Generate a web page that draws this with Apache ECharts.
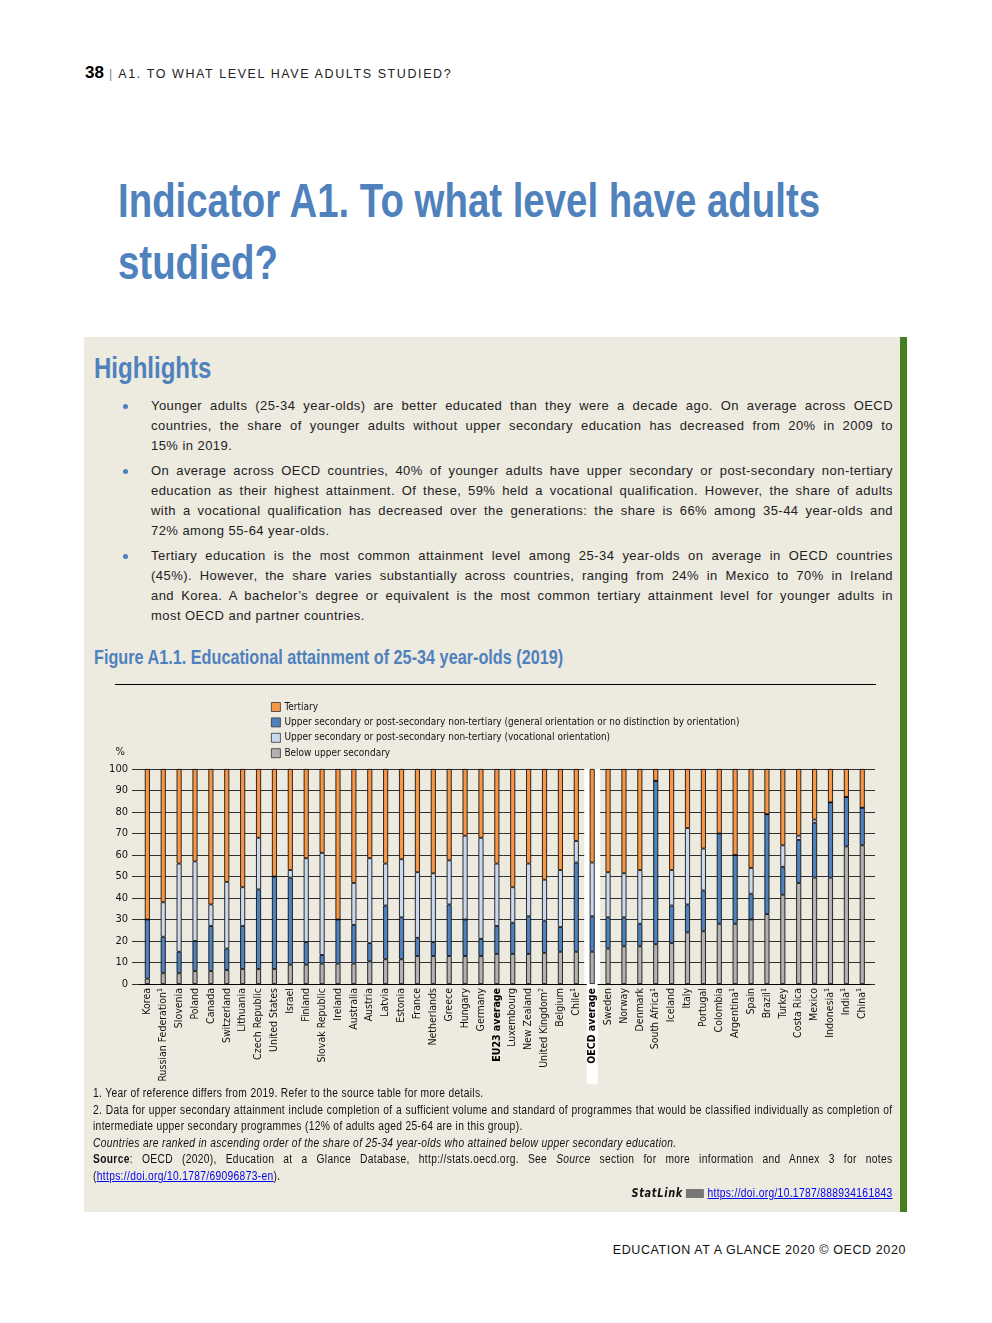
<!DOCTYPE html>
<html>
<head>
<meta charset="utf-8">
<script src="https://cdn.jsdelivr.net/npm/echarts@6/dist/echarts.min.js"></script>
<style>
  html, body { margin:0; padding:0; background:#fff; }
  body { width:992px; height:1323px; position:relative; overflow:hidden; font-family:"Liberation Sans", Arial, sans-serif; color:#111; }
  .abs { position:absolute; }
  .sx { transform:scaleX(0.8); transform-origin:left top; white-space:nowrap; }
  .hdr { left:85px; top:63px; font-size:12.5px; letter-spacing:1.6px; color:#222; white-space:nowrap; }
  .hdr b { font-size:17px; letter-spacing:0; color:#000; }
  .title { left:118px; top:170px; font-size:48px; font-weight:bold; color:#4f81bd; line-height:62px; }
  .box { left:84px; top:337px; width:816px; height:875px; background:#edeae0; }
  .green { left:900px; top:337px; width:7px; height:875px; background:#44801f; }
  .hl { left:94px; top:351px; font-size:30px; font-weight:bold; color:#4f81bd; }
  .bul { left:151px; width:742px; font-size:13px; letter-spacing:0.45px; line-height:20px; color:#222; }
  .bul div { text-align:justify; text-align-last:justify; white-space:nowrap; }
  .bul div.last { text-align-last:left; }
  .dot { left:123px; width:5px; height:5px; border-radius:50%; background:#4f81bd; }
  .ftitle { left:94px; top:646px; font-size:20.3px; font-weight:bold; color:#4f81bd; }
  .rule { left:115px; top:684px; width:761px; height:1px; background:#000; }
  .fn { left:93px; width:975px; font-size:12.5px; letter-spacing:0.4px; line-height:16.6px; color:#111; transform:scaleX(0.82); transform-origin:left top; }
  .fn div { white-space:nowrap; }
  .fn .j { text-align:justify; text-align-last:justify; }
  .fn a { color:#0000ee; text-decoration:underline; }
  .footer { right:86px; top:1243px; font-size:12.5px; letter-spacing:0.6px; color:#111; white-space:nowrap; }
  #chart { position:absolute; left:84px; top:690px; width:816px; height:400px; }
</style>
</head>
<body>
<div class="abs hdr"><b>38</b> <span style="color:#888">|</span> A1. TO WHAT LEVEL HAVE ADULTS STUDIED?</div>
<div class="abs title sx">Indicator A1. To what level have adults<br>studied?</div>
<div class="abs box"></div>
<div class="abs green"></div>
<div class="abs hl sx">Highlights</div>

<div class="abs dot" style="top:404px"></div>
<div class="abs bul" style="top:396px">
<div>Younger adults (25-34 year-olds) are better educated than they were a decade ago. On average across OECD</div>
<div>countries, the share of younger adults without upper secondary education has decreased from 20% in 2009 to</div>
<div class="last">15% in 2019.</div>
</div>
<div class="abs dot" style="top:469px"></div>
<div class="abs bul" style="top:461px">
<div>On average across OECD countries, 40% of younger adults have upper secondary or post-secondary non-tertiary</div>
<div>education as their highest attainment. Of these, 59% held a vocational qualification. However, the share of adults</div>
<div>with a vocational qualification has decreased over the generations: the share is 66% among 35-44 year-olds and</div>
<div class="last">72% among 55-64 year-olds.</div>
</div>
<div class="abs dot" style="top:554px"></div>
<div class="abs bul" style="top:546px">
<div>Tertiary education is the most common attainment level among 25-34 year-olds on average in OECD countries</div>
<div>(45%). However, the share varies substantially across countries, ranging from 24% in Mexico to 70% in Ireland</div>
<div>and Korea. A bachelor’s degree or equivalent is the most common tertiary attainment level for younger adults in</div>
<div class="last">most OECD and partner countries.</div>
</div>

<div class="abs ftitle sx">Figure A1.1. Educational attainment of 25-34 year-olds (2019)</div>
<div class="abs rule"></div>
<div id="chart"></div>

<div class="abs fn" style="top:1085px">
<div>1. Year of reference differs from 2019. Refer to the source table for more details.</div>
<div class="j">2. Data for upper secondary attainment include completion of a sufficient volume and standard of programmes that would be classified individually as completion of</div>
<div>intermediate upper secondary programmes (12% of adults aged 25-64 are in this group).</div>
<div><i>Countries are ranked in ascending order of the share of 25-34 year-olds who attained below upper secondary education.</i></div>
<div class="j"><b>Source</b>: OECD (2020), Education at a Glance Database, http://stats.oecd.org. See <i>Source</i> section for more information and Annex 3 for notes</div>
<div>(<a>https://doi.org/10.1787/69096873-en</a>).</div>
<div style="text-align:right; margin-top:0px"><span style="font-family:'DejaVu Sans',sans-serif;font-weight:bold;font-style:italic;font-size:12px;letter-spacing:0.8px">StatLink</span> <span style="display:inline-block;width:22px;height:9px;background:#777;vertical-align:middle"></span> <a>https://doi.org/10.1787/888934161843</a></div>
</div>

<div class="abs footer">EDUCATION AT A GLANCE 2020 © OECD 2020</div>

<script>
// ---- data ----
const categories = ['Korea','Russian Federation','Slovenia','Poland','Canada','Switzerland','Lithuania','Czech Republic','United States','Israel','Finland','Slovak Republic','Ireland','Australia','Austria','Latvia','Estonia','France','Netherlands','Greece','Hungary','Germany','EU23 average','Luxembourg','New Zealand','United Kingdom','Belgium','Chile','OECD average','Sweden','Norway','Denmark','South Africa','Iceland','Italy','Portugal','Colombia','Argentina','Spain','Brazil','Turkey','Costa Rica','Mexico','Indonesia','India','China'];
const notes = ['', '1', '', '', '', '', '', '', '', '', '', '', '', '', '', '', '', '', '', '', '', '', '', '', '', '2', '', '1', '', '', '', '', '1', '', '', '', '', '1', '', '1', '', '', '', '1', '1', '1'];
const belowUpperSecondary = [2.5,5,5,6,6,6.5,7,7,7,9,9,9.5,9.5,9.5,10.5,11.5,11.5,13,13,13,13,13,14,14,14,14.5,15,15,15,16.5,17.5,17.5,18.5,19,24,24.5,28,28,30,32.5,41.5,47,49.5,49.5,64,64.5];
const upperGeneral = [27.5,17,10,14,21,10,20,37,43,40.5,10.5,4,20.5,18,8.5,25,19.5,8.5,6.5,24,17,8,13,14.5,17.5,15,11.5,41.5,16.5,14.5,13.5,10.5,76,17.5,13,19,42,32,12,46.5,13,20,25.5,35,23,17.5];
const upperVocational = [0,16,41,37,10,31,18,24,0,3.5,39,47.5,0,19.5,39.5,19.5,27,30.5,32,20.5,39,47,29,16.5,24.5,19,26.5,10,25,21,20.5,25,0,16.5,35.5,19.5,0,0,12,0,10,2,1.5,0,0,0];
const tertiary = [70,62,44,43,63,52.5,55,32,50,47,41.5,39,70,53,41.5,44,42,48,48.5,42.5,31,32,44,55,44,51.5,47,33.5,43.5,48,48.5,47,5.5,47,27.5,37,30,40,46,21,35.5,31,23.5,15.5,13,18];
const yTicks = [0,10,20,30,40,50,60,70,80,90,100];
const highlighted = 'OECD average';
const boldCats = ['EU23 average','OECD average'];

const seriesNames = {
  ter: 'Tertiary',
  gen: 'Upper secondary or post-secondary non-tertiary (general orientation or no distinction by orientation)',
  voc: 'Upper secondary or post-secondary non-tertiary (vocational orientation)',
  below: 'Below upper secondary'
};
const colors = { ter:'#f79646', gen:'#4f81bd', voc:'#c9d9ee', below:'#b1b1b1' };

const FONT = '"DejaVu Sans Condensed","Liberation Sans Narrow","Arial Narrow",sans-serif';
const chart = echarts.init(document.getElementById('chart'), null, {renderer:'canvas'});

function barSeries(key, data) {
  return {
    name: seriesNames[key], type:'bar', stack:'total', xAxisIndex:1, yAxisIndex:1,
    barWidth:5, data:data, z:3,
    itemStyle:{ color:colors[key], borderColor:'#000', borderWidth:0.8 }
  };
}

const option = {
  animation:false,
  backgroundColor:'transparent',
  textStyle:{ fontFamily:FONT },
  legend:{
    orient:'vertical', left:182, top:7, itemWidth:9, itemHeight:9, itemGap:5.4,
    icon:'rect',
    data:[seriesNames.ter, seriesNames.gen, seriesNames.voc, seriesNames.below],
    textStyle:{ fontFamily:FONT, fontSize:10, color:'#111', padding:[0,0,0,-1] },
    itemStyle:{ borderColor:'#333', borderWidth:0.8 }
  },
  grid:[
    { left:48, width:743, top:79, height:215 },
    { left:55.4, width:730.8, top:79, height:215 },
    { left:55.4, width:730.8, top:79, height:215 }
  ],
  xAxis:[
    { type:'category', gridIndex:0, data:categories, show:false },
    { type:'category', gridIndex:1, data:categories,
      axisLine:{ show:true, lineStyle:{ color:'#000', width:1 } },
      axisTick:{ show:false },
      axisLabel:{
        interval:0, rotate:90, margin:0, fontFamily:FONT, fontSize:10.5, color:'#111',
        formatter:function(v, i){
          const n = notes[i];
          let style = boldCats.indexOf(v) >= 0 ? (v === highlighted ? 'hb' : 'b') : 'n';
          let s = '{' + style + '|' + v + '}';
          if (n) s += '{sup|' + n + '}';
          if (v !== highlighted) s += '{pad| }';
          return s;
        },
        rich:{
          n:{ fontFamily:FONT, fontSize:10.5, color:'#111', lineHeight:13 },
          b:{ fontFamily:FONT, fontSize:10.5, fontWeight:'bold', color:'#000', lineHeight:13 },
          hb:{ fontFamily:FONT, fontSize:10.5, fontWeight:'bold', color:'#000', lineHeight:16, backgroundColor:'#fff', padding:[0,4,0,20] },
          sup:{ fontFamily:FONT, fontSize:7, color:'#111', lineHeight:7, verticalAlign:'top' },
          pad:{ fontSize:4, width:4 }
        }
      }
    },
    { type:'category', gridIndex:2, data:categories, show:false }
  ],
  yAxis:[
    { type:'value', gridIndex:0, min:0, max:100, interval:10,
      name:'%', nameLocation:'end', nameGap:11,
      nameTextStyle:{ fontFamily:FONT, fontSize:11, color:'#111', align:'right', padding:[0,7,0,0] },
      axisLine:{ show:false }, axisTick:{ show:false },
      axisLabel:{ fontFamily:FONT, fontSize:11, color:'#111', margin:4,
        formatter:function(v){ return yTicks.indexOf(v) >= 0 ? String(v) : ''; } },
      splitLine:{ show:true, lineStyle:{ color:'#000', width:0.8 } }
    },
    { type:'value', gridIndex:1, min:0, max:100, interval:10, show:false, splitLine:{show:false} },
    { type:'value', gridIndex:2, min:0, max:100, interval:10, show:false, splitLine:{show:false} }
  ],
  series:[
    { type:'bar', name:'hl', xAxisIndex:2, yAxisIndex:2, barWidth:'100%', silent:true, z:1,
      data: categories.map(c => c === highlighted ? 100 : null),
      itemStyle:{ color:'#ffffff' } },
    barSeries('below', belowUpperSecondary),
    barSeries('gen', upperGeneral),
    barSeries('voc', upperVocational),
    barSeries('ter', tertiary)
  ]
};
chart.setOption(option);
</script>
</body>
</html>
